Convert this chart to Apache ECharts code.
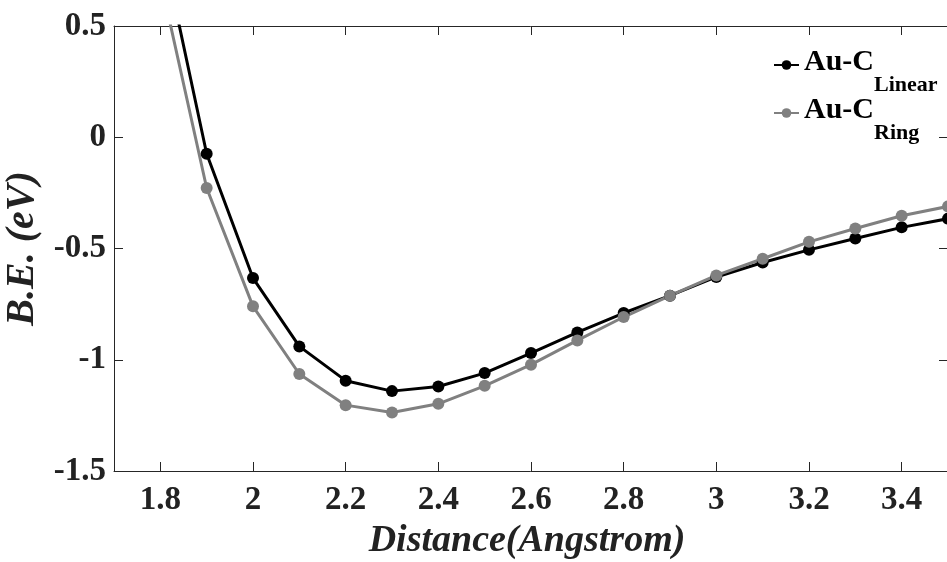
<!DOCTYPE html>
<html>
<head>
<meta charset="utf-8">
<script src="https://cdn.jsdelivr.net/npm/echarts@6/dist/echarts.min.js"></script>
<style>
html,body{margin:0;padding:0;background:#fff;}
#chart{width:947px;height:562px;}
</style>
</head>
<body>
<div id="chart"></div>
<script>
var distances = [1.8, 1.9, 2.0, 2.1, 2.2, 2.3, 2.4, 2.5, 2.6, 2.7, 2.8, 2.9, 3.0, 3.1, 3.2, 3.3, 3.4, 3.5];
var linearBE = [0.90, -0.074, -0.633, -0.940, -1.094, -1.141, -1.120, -1.060, -0.970, -0.877, -0.790, -0.712, -0.628, -0.563, -0.506, -0.455, -0.405, -0.366];
var ringBE = [0.71, -0.228, -0.760, -1.064, -1.204, -1.237, -1.198, -1.117, -1.022, -0.913, -0.808, -0.712, -0.621, -0.546, -0.470, -0.410, -0.353, -0.311];
var xTickValues = [1.8, 2.0, 2.2, 2.4, 2.6, 2.8, 3.0, 3.2, 3.4];
var legendMain = 'Au-C';
var seriesNames = ['Linear', 'Ring'];
var xName = 'Distance(Angstrom)';
var yName = 'B.E. (eV)';

function pairs(xs, ys) {
  return xs.map(function (x, i) { return [x, ys[i]]; });
}

var FONT = 'Liberation Serif';
var AXC = '#262626';

var chart = echarts.init(document.getElementById('chart'), null, {renderer: 'canvas'});

var baseX = {
  type: 'value', min: 1.7, max: 3.5,
  axisLine: {show: true, onZero: false, lineStyle: {color: AXC, width: 1}},
  splitLine: {show: false}
};
var baseY = {
  type: 'value', min: -1.5, max: 0.5, interval: 0.5,
  axisLine: {show: true, onZero: false, lineStyle: {color: AXC, width: 1}},
  splitLine: {show: false}
};

var option = {
  animation: false,
  backgroundColor: '#fff',
  grid: {left: 114, top: 26, width: 834, height: 445, containLabel: false, outerBoundsMode: 'none'},
  legend: {
    orient: 'vertical', left: 773, top: 45, padding: 0,
    itemWidth: 25, itemHeight: 12, itemGap: -3, itemTextGap: 2,
    data: seriesNames,
    formatter: function (name) { return '{m|' + legendMain + '}{s|' + name + '}'; },
    textStyle: {
      rich: {
        m: {fontFamily: FONT, fontWeight: 'bold', fontSize: 30, lineHeight: 40, color: '#000', verticalAlign: 'top', padding: [2, 0, 0, 0]},
        s: {fontFamily: FONT, fontWeight: 'bold', fontSize: 22, lineHeight: 22, color: '#000', verticalAlign: 'top', padding: [29, 0, 0, 0]}
      }
    }
  },
  xAxis: [
    Object.assign({}, baseX, {
      position: 'bottom',
      name: xName, nameLocation: 'middle', nameGap: 45,
      nameTextStyle: {fontFamily: FONT, fontWeight: 'bold', fontStyle: 'italic', fontSize: 38, color: '#222', padding: [0, 8, 0, 0]},
      axisTick: {show: true, inside: true, length: 9, customValues: xTickValues, lineStyle: {color: AXC}},
      axisLabel: {show: true, margin: 13, customValues: xTickValues, fontFamily: FONT, fontWeight: 'bold', fontSize: 33, color: '#222'}
    }),
    Object.assign({}, baseX, {
      position: 'top',
      axisTick: {show: true, inside: true, length: 9, customValues: xTickValues, lineStyle: {color: AXC}},
      axisLabel: {show: false}
    })
  ],
  yAxis: [
    Object.assign({}, baseY, {
      position: 'left',
      name: yName, nameLocation: 'middle', nameGap: 60,
      nameTextStyle: {fontFamily: FONT, fontWeight: 'bold', fontStyle: 'italic', fontSize: 40, color: '#222'},
      axisTick: {show: true, inside: true, length: 9, lineStyle: {color: AXC}},
      axisLabel: {show: true, margin: 8, fontFamily: FONT, fontWeight: 'bold', fontSize: 33, color: '#222'}
    }),
    Object.assign({}, baseY, {
      position: 'right',
      axisTick: {show: true, inside: true, length: 9, lineStyle: {color: AXC}},
      axisLabel: {show: false}
    })
  ],
  series: [
    {
      name: seriesNames[0], type: 'line', xAxisIndex: 0, yAxisIndex: 0,
      data: pairs(distances, linearBE),
      symbol: 'circle', symbolSize: 12, clip: true,
      lineStyle: {color: '#000', width: 3},
      itemStyle: {color: '#000'}
    },
    {
      name: seriesNames[1], type: 'line', xAxisIndex: 0, yAxisIndex: 0,
      data: pairs(distances, ringBE),
      symbol: 'circle', symbolSize: 12, clip: true,
      lineStyle: {color: '#808080', width: 3},
      itemStyle: {color: '#808080'}
    }
  ]
};
chart.setOption(option);
</script>
</body>
</html>
